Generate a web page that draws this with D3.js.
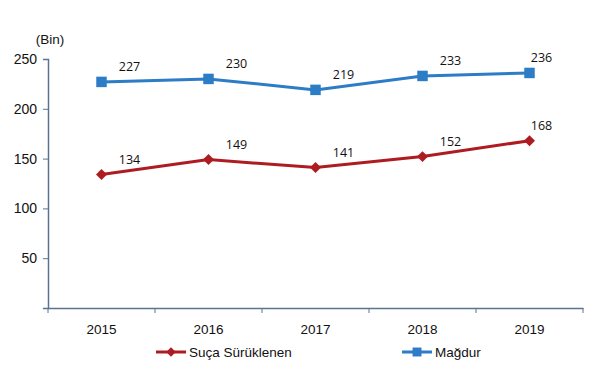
<!DOCTYPE html>
<html>
<head>
<meta charset="utf-8">
<script src="https://cdn.jsdelivr.net/npm/d3@7"></script>
<style>
  body { margin: 0; background: #fff; }
  svg { display: block; }
</style>
</head>
<body>
<div id="chart"></div>
<script>
const years = ['2015', '2016', '2017', '2018', '2019']
const sucaSuruklenen = [134, 149, 141, 152, 168]
const magdur = [227, 230, 219, 233, 236]
const yTicks = [50, 100, 150, 200, 250]

const width = 597
const height = 371
const padding = { top: 59, right: 14, bottom: 63, left: 48 }

const svg = d3.select('#chart').append('svg')
    .attr('width', width)
    .attr('height', height)

const x = d3.scaleBand()
    .domain(years)
    .range([padding.left, width - padding.right])

const y = d3.scaleLinear()
    .domain([0, 250])
    .range([height - padding.bottom, padding.top])

const axisColor = '#5b7391'
const blue = '#2c7cc6'
const red = '#ae1c22'
const font = 'Liberation Sans, Arial, sans-serif'

// x axis
const xAxis = svg.append('g')
    .attr('transform', `translate(0,${y(0)})`)
    .call(d3.axisBottom(x).tickSize(0).tickPadding(16))
xAxis.select('.domain').attr('stroke', axisColor).attr('stroke-width', 1.5)
xAxis.selectAll('text')
    .style('font-family', font)
    .style('font-size', '13.5px')
    .attr('fill', '#111')
// boundary ticks
svg.append('g').selectAll('line')
    .data(years.concat(['end']))
    .enter()
    .append('line')
    .attr('x1', (d, i) => i < years.length ? x(d) : x.range()[1])
    .attr('x2', (d, i) => i < years.length ? x(d) : x.range()[1])
    .attr('y1', y(0))
    .attr('y2', y(0) + 5)
    .attr('stroke', axisColor)
    .attr('stroke-width', 1)

// y axis
const yAxis = svg.append('g')
    .attr('transform', `translate(${padding.left},0)`)
    .call(d3.axisLeft(y).tickValues([0].concat(yTicks)).tickSize(5).tickPadding(6)
        .tickFormat(d => d === 0 ? '' : d))
yAxis.select('.domain').attr('stroke', axisColor).attr('stroke-width', 1.5)
yAxis.selectAll('line').attr('stroke', axisColor)
yAxis.selectAll('text')
    .style('font-family', font)
    .style('font-size', '14px')
    .attr('fill', '#111')

svg.append('text')
    .attr('x', 50)
    .attr('y', 44)
    .attr('text-anchor', 'middle')
    .style('font-family', font)
    .style('font-size', '13.5px')
    .attr('fill', '#111')
    .text('(Bin)')

const cx = d => x(d) + x.bandwidth() / 2
const line = d3.line()
    .x((d, i) => cx(years[i]))
    .y(d => y(d))

// square marker, rotated 45deg for the diamond
const marker = (shape, size) => d3.symbol().type(d3.symbolSquare).size(size)()
const rot = shape => shape === 'diamond' ? ' rotate(45)' : ''

function drawSeries (values, color, shape) {
    svg.append('path')
        .datum(values)
        .attr('fill', 'none')
        .attr('stroke', color)
        .attr('stroke-width', 3)
        .attr('d', line)

    const size = shape === 'square' ? 110 : 60

    svg.append('g').selectAll('path')
        .data(values)
        .enter()
        .append('path')
        .attr('d', marker(shape, size))
        .attr('fill', color)
        .attr('transform', (d, i) => `translate(${cx(years[i])},${y(d)})${rot(shape)}`)

    svg.append('g').selectAll('text')
        .data(values)
        .enter()
        .append('text')
        .attr('x', (d, i) => cx(years[i]) + (i === years.length - 1 ? 12 : 28))
        .attr('y', d => y(d) - 11)
        .attr('text-anchor', 'middle')
        .style('font-family', 'Open Sans, Noto Sans, sans-serif')
        .style('font-size', '12.5px')
        .attr('fill', '#111')
        .text(d => d)
}

drawSeries(magdur, blue, 'square')
drawSeries(sucaSuruklenen, red, 'diamond')

// legend
const legend = [
    { name: 'Suça Sürüklenen', color: red, shape: 'diamond', x: 156 },
    { name: 'Mağdur', color: blue, shape: 'square', x: 402 }
]
const ly = 352
legend.forEach(item => {
    const g = svg.append('g')
    g.append('line')
        .attr('x1', item.x).attr('x2', item.x + 30)
        .attr('y1', ly).attr('y2', ly)
        .attr('stroke', item.color)
        .attr('stroke-width', 3)
    g.append('path')
        .attr('d', marker(item.shape, item.shape === 'square' ? 80 : 45))
        .attr('fill', item.color)
        .attr('transform', `translate(${item.x + 15},${ly})${rot(item.shape)}`)
    g.append('text')
        .attr('x', item.x + 33)
        .attr('y', ly + 5)
        .style('font-family', font)
        .style('font-size', '13.5px')
        .attr('fill', '#111')
        .text(item.name)
})
</script>
</body>
</html>
